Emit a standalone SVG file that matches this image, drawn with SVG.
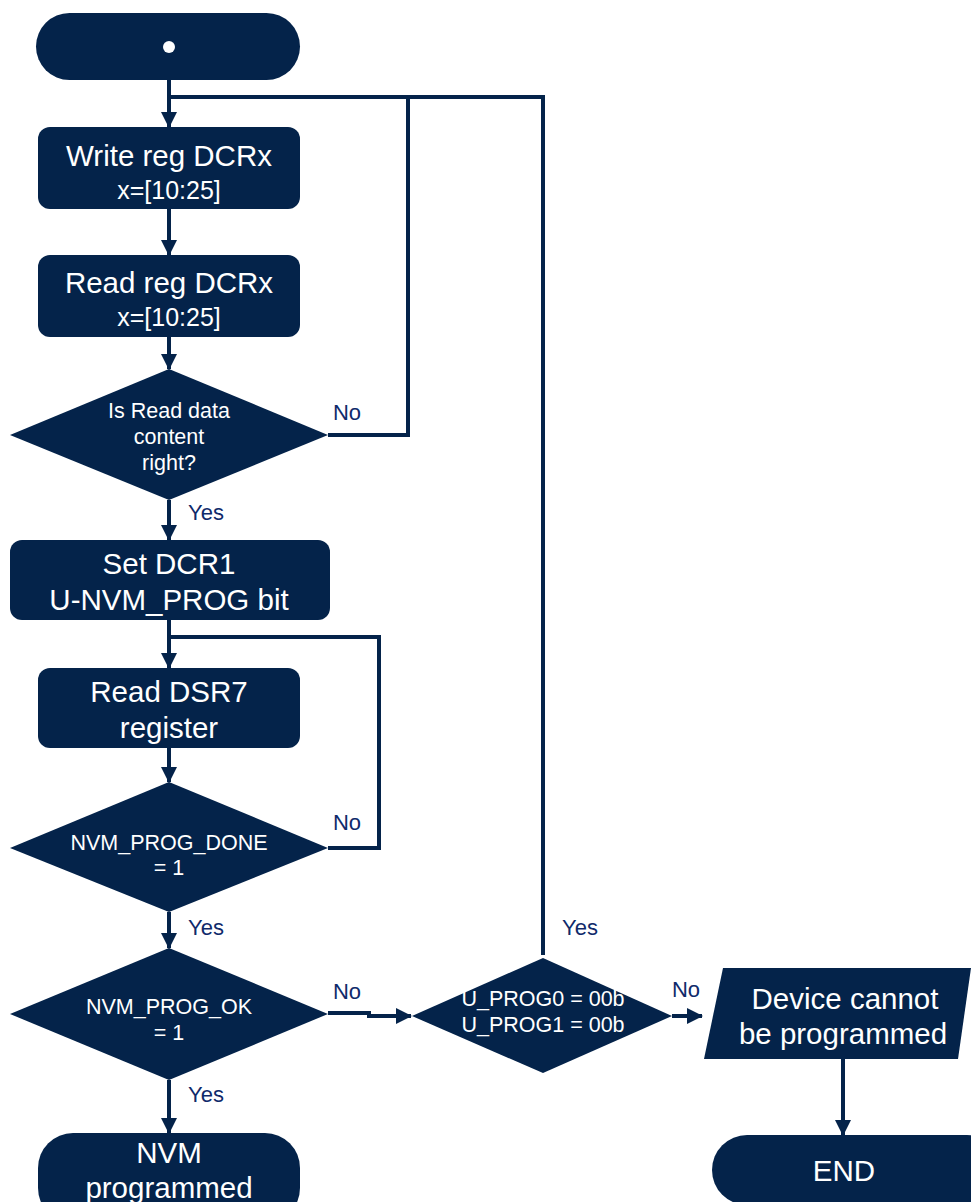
<svg xmlns="http://www.w3.org/2000/svg" width="971" height="1202" viewBox="0 0 971 1202">
<style>
.n{fill:#04234a}
.t{fill:#fff;font-family:"Liberation Sans",Arial,sans-serif;text-anchor:middle}
.b{font-size:29.5px}
.s{font-size:25px}
.d{font-size:21.5px}
.l{fill:#0f2a6b;font-family:"Liberation Sans",Arial,sans-serif;font-size:22px;text-anchor:middle}
.c{fill:none;stroke:#04234a;stroke-width:4}
</style>
<defs>
<marker id="a" markerUnits="userSpaceOnUse" markerWidth="16" markerHeight="16" viewBox="0 0 16 16" refX="15" refY="8" orient="auto">
<path d="M0,0 L16,8 L0,16 Z" fill="#04234a"/>
</marker>
</defs>
<g id="connectors">
<path class="c" d="M169,80 V127" marker-end="url(#a)"/>
<path class="c" d="M169,97 H543 V955"/>
<path class="c" d="M328,435 H408 V97"/>
<path class="c" d="M169,209 V255" marker-end="url(#a)"/>
<path class="c" d="M169,337 V369" marker-end="url(#a)"/>
<path class="c" d="M169,500 V540" marker-end="url(#a)"/>
<path class="c" d="M169,620 V668" marker-end="url(#a)"/>
<path class="c" d="M169,637 H379 V848 H328"/>
<path class="c" d="M169,748 V782" marker-end="url(#a)"/>
<path class="c" d="M169,912 V948" marker-end="url(#a)"/>
<path class="c" d="M169,1080 V1133" marker-end="url(#a)"/>
<path class="c" d="M328,1013 H369 V1016 H411" marker-end="url(#a)"/>
<path class="c" d="M672,1016 H702" marker-end="url(#a)"/>
<path class="c" d="M843,1059 V1135" marker-end="url(#a)"/>
<text class="l" x="347" y="420">No</text>
<text class="l" x="206" y="520">Yes</text>
<text class="l" x="347" y="830">No</text>
<text class="l" x="206" y="935">Yes</text>
<text class="l" x="347" y="999">No</text>
<text class="l" x="206" y="1102">Yes</text>
<text class="l" x="580" y="935">Yes</text>
<text class="l" x="686" y="997">No</text>
</g>
<g id="start">
<rect class="n" x="36" y="13" width="264" height="67" rx="33.5"/>
<circle cx="169" cy="47" r="6" fill="#fff"/>
</g>
<g id="write">
<rect class="n" x="38" y="127" width="262" height="82" rx="12"/>
<text class="t b" x="169" y="165.5">Write reg DCRx</text>
<text class="t s" x="169" y="199">x=[10:25]</text>
</g>
<g id="read">
<rect class="n" x="38" y="255" width="262" height="82" rx="12"/>
<text class="t b" x="169" y="292.5">Read reg DCRx</text>
<text class="t s" x="169" y="326">x=[10:25]</text>
</g>
<g id="check">
<polygon class="n" points="169,369 328,435 169,500 10,435"/>
<text class="t d" x="169" y="417.5">Is Read data</text>
<text class="t d" x="169" y="443.5">content</text>
<text class="t d" x="169" y="469.5">right?</text>
</g>
<g id="setdcr1">
<rect class="n" x="10" y="540" width="320" height="80" rx="12"/>
<text class="t b" x="169" y="573.5">Set DCR1</text>
<text class="t b" x="169" y="609.5">U-NVM_PROG bit</text>
</g>
<g id="readdsr7">
<rect class="n" x="38" y="668" width="262" height="80" rx="12"/>
<text class="t b" x="169" y="701.5">Read DSR7</text>
<text class="t b" x="169" y="737.5">register</text>
</g>
<g id="done">
<polygon class="n" points="169,782 328,848 169,912 10,848"/>
<text class="t d" x="169" y="849.5">NVM_PROG_DONE</text>
<text class="t d" x="169" y="874.5">= 1</text>
</g>
<g id="ok">
<polygon class="n" points="169,948 328,1014 169,1080 10,1014"/>
<text class="t d" x="169" y="1013.5">NVM_PROG_OK</text>
<text class="t d" x="169" y="1039.5">= 1</text>
</g>
<g id="uprog">
<polygon class="n" points="543,958 672,1016 543,1073 412,1016"/>
<text class="t d" x="543" y="1005.5">U_PROG0 = 00b</text>
<text class="t d" x="543" y="1031.5">U_PROG1 = 00b</text>
</g>
<g id="cannot">
<polygon class="n" points="723,968 971,968 958,1059 704,1059"/>
<text class="t b" x="845" y="1008.5">Device cannot</text>
<text class="t b" x="843" y="1044">be programmed</text>
</g>
<g id="end">
<rect class="n" x="712" y="1135" width="290" height="70" rx="35"/>
<text class="t b" x="844" y="1180.5">END</text>
</g>
<g id="programmed">
<rect class="n" x="38" y="1133" width="262" height="90" rx="35"/>
<text class="t b" x="169" y="1163">NVM</text>
<text class="t b" x="169" y="1198">programmed</text>
</g>
</svg>
